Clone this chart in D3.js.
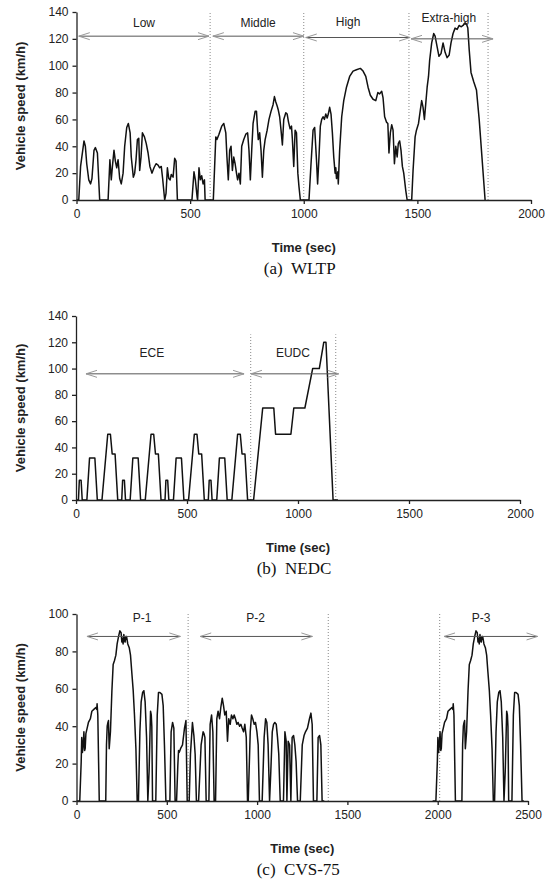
<!DOCTYPE html>
<html>
<head>
<meta charset="utf-8">
<script src="https://cdn.jsdelivr.net/npm/d3@7"></script>
<style>
  body { margin: 0; background: #fff; }
  svg { display: block; font-family: "Liberation Sans", Arial, sans-serif; }
</style>
</head>
<body>
<div class="chart"></div>
<script>
// ---- WLTP (time sec, speed km/h)
const wltp = [
  [0,0],[10,0],[18,25],[33,44],[39,40],[45,27],[54,15],[62,12],[68,16],[77,37],[83,39],[92,35],[102,0],
  [139,0],[147,30],[153,15],[158,25],[165,37],[171,29],[177,24],[183,30],[190,16],[197,12],[205,20],[212,40],
  [221,54],[228,57],[236,50],[241,32],[250,17],[256,20],[262,30],[268,45],[274,46],[278,22],[284,32],[290,50],
  [299,47],[307,42],[315,35],[323,25],[332,20],[341,24],[350,27],[359,26],[366,24],[373,25],[379,16],[388,0],
  [394,5],[400,24],[406,16],[412,15],[417,19],[425,17],[432,31],[438,29],[444,0],
  [508,0],[517,21],[523,15],[531,2],[533,0],[539,24],[545,15],[551,18],[557,12],[563,15],[566,0],
  [602,0],[613,47],[618,45],[627,49],[639,55],[648,57],[657,50],[662,32],[668,15],[674,37],[680,40],[686,22],
  [692,32],[698,27],[704,20],[709,15],[715,20],[721,12],[727,40],[736,45],[745,49],[753,50],[759,37],[765,15],
  [771,37],[777,57],[786,66],[792,66],[797,52],[800,45],[806,50],[812,37],[818,17],[824,37],[830,45],[839,52],
  [847,60],[856,66],[865,71],[871,77],[877,73],[883,70],[888,67],[894,62],[900,52],[906,41],[912,60],[921,65],
  [927,64],[933,58],[940,53],[946,55],[950,45],[956,25],[962,52],[968,50],[974,20],[979,10],[985,0],
  [1023,0],[1032,27],[1041,52],[1048,54],[1056,30],[1061,12],[1067,32],[1073,55],[1079,60],[1085,62],[1091,60],
  [1097,64],[1103,61],[1108,64],[1114,69],[1120,64],[1126,50],[1132,32],[1138,20],[1141,24],[1144,16],[1150,21],
  [1152,12],[1158,37],[1167,62],[1176,74],[1188,84],[1202,92],[1217,96],[1232,97],[1249,98],[1261,96],[1273,92],
  [1283,84],[1293,78],[1305,75],[1317,74],[1326,80],[1334,79],[1343,81],[1349,76],[1356,62],[1364,58],[1370,57],
  [1375,35],[1381,50],[1387,56],[1393,52],[1399,27],[1405,40],[1411,32],[1416,42],[1422,44],[1428,37],[1434,25],
  [1440,20],[1449,7],[1455,0],
  [1475,0],[1481,22],[1490,47],[1496,52],[1505,57],[1513,67],[1519,74],[1525,69],[1531,60],[1537,72],[1543,84],
  [1549,92],[1554,104],[1563,117],[1572,124],[1578,122],[1587,114],[1595,107],[1604,109],[1613,117],[1622,110],
  [1631,106],[1640,108],[1648,117],[1657,124],[1666,128],[1675,127],[1684,130],[1692,129],[1701,130],[1710,132],
  [1716,131],[1722,128],[1728,112],[1736,95],[1748,88],[1760,82],[1772,60],[1798,0]
];
const wltpPhases = ["Low", "Middle", "High", "Extra-high"];
const wltpSpans = [[10,583],[600,1001],[1009,1468],[1472,1833]];
const wltpArrowV = [122, 122, 121, 120];
const wltpLabelT = [297, 799, 1195, 1638];
const wltpLabelV = [132, 132, 133, 136];
const wltpDividers = [588, 1000, 1463, 1811];

// ---- NEDC
const nedc = [
  [0,0],[11,0],[15,15],[23,15],[28,0],[49,0],[61,32],[85,32],[96,0],[117,0],[143,50],[155,50],[163,35],[176,35],[188,0],
  [206,0],[210,15],[218,15],[223,0],[244,0],[256,32],[280,32],[291,0],[312,0],[338,50],[350,50],[358,35],[371,35],[383,0],
  [401,0],[405,15],[413,15],[418,0],[439,0],[451,32],[475,32],[486,0],[507,0],[533,50],[545,50],[553,35],[566,35],[578,0],
  [596,0],[600,15],[608,15],[613,0],[634,0],[646,32],[670,32],[681,0],[702,0],[728,50],[740,50],[748,35],[761,35],[773,0],
  [800,0],[841,70],[891,70],[899,50],[968,50],[981,70],[1031,70],[1066,100],[1096,100],[1116,120],[1126,120],[1158,0],[1180,0]
];
const nedcPhases = ["ECE", "EUDC"];
const nedcSpans = [[45,757],[788,1183]];
const nedcArrowV = [96, 96];
const nedcLabelT = [342, 977];
const nedcLabelV = [112, 112];
const nedcDividers = [787, 1170];

// ---- CVS-75 (cold start + stabilised phase, then hot start after the soak)
const cvsFirst = [
  [0,0],[18,0],[26,21],[29,34],[33,26],[37,30],[41,37],[45,27],[48,28],[52,36],[59,39],[66,42],[77,44],[85,48],
  [96,49],[107,50],[112,49],[114,52],[118,46],[126,0],
  [162,0],[166,30],[170,40],[174,42],[177,43],[181,28],[188,37],[196,59],[203,73],[210,75],[218,78],[225,84],
  [233,88],[240,91],[247,90],[251,85],[255,87],[258,84],[262,89],[266,86],[269,85],[273,88],[277,88],[284,84],
  [292,82],[299,78],[306,69],[314,59],[321,46],[329,28],[336,0],
  [343,0],[351,37],[358,53],[366,58],[373,59],[380,53],[388,34],[395,0],[402,16],[410,48],[414,46],[417,40],[421,0],
  [439,0],[447,46],[454,58],[462,58],[473,57],[480,51],[487,30],[495,0],
  [517,0],[524,37],[532,42],[539,39],[546,0],
  [554,0],[561,19],[565,27],[569,26],[576,28],[587,30],[598,39],[606,43],[613,0],
  [624,0],[631,25],[642,42],[650,35],[657,25],[664,0],
  [676,0],[690,30],[701,37],[706,36],[711,34],[718,0],
  [733,0],[740,41],[748,46],[755,37],[762,0],
  [770,0],[777,44],[784,48],[792,44],[799,50],[807,55],[814,51],[821,46],[829,48],[836,32],[843,44],[851,41],
  [858,46],[866,44],[873,46],[880,44],[888,41],[895,42],[903,40],[910,41],[917,39],[925,37],[932,41],[940,34],[947,0],
  [951,0],[962,37],[969,46],[976,44],[984,41],[991,42],[999,37],[1006,30],[1013,0],
  [1028,0],[1039,34],[1047,44],[1054,42],[1061,30],[1069,0],[1076,16],[1084,37],[1091,41],[1098,42],[1106,41],
  [1113,34],[1120,25],[1128,0],
  [1146,0],[1154,37],[1161,32],[1165,0],[1172,32],[1180,30],[1187,0],[1194,34],[1202,35],[1209,30],[1216,21],[1224,0],
  [1239,0],[1250,30],[1260,35],[1268,37],[1279,39],[1290,44],[1298,47],[1305,41],[1312,0],
  [1331,0],[1338,34],[1346,35],[1353,30],[1360,0],[1372,0]
];
const cvsHot = [
  [1972,0],[1990,0],[1998,21],[2001,34],[2005,26],[2009,30],[2013,37],[2017,27],[2020,28],[2024,36],[2031,39],
  [2038,42],[2049,44],[2057,48],[2068,49],[2079,50],[2084,49],[2086,52],[2090,46],[2098,0],
  [2134,0],[2138,30],[2142,40],[2146,42],[2149,43],[2153,28],[2160,37],[2168,59],[2175,73],[2182,75],[2190,78],
  [2197,84],[2205,88],[2212,91],[2219,90],[2223,85],[2227,87],[2230,84],[2234,89],[2238,86],[2241,85],[2245,88],
  [2249,88],[2256,84],[2264,82],[2271,78],[2278,69],[2286,59],[2293,46],[2301,28],[2308,0],
  [2315,0],[2323,37],[2330,53],[2338,58],[2345,59],[2352,53],[2360,34],[2367,0],[2374,16],[2382,48],[2386,46],
  [2389,40],[2393,0],
  [2411,0],[2419,46],[2426,58],[2434,58],[2445,57],[2452,51],[2459,30],[2467,0],[2477,0]
];
const cvsPhases = ["P-1", "P-2", "P-3"];
const cvsSpans = [[58,575],[685,1306],[2035,2553]];
const cvsArrowV = [88, 88, 88];
const cvsLabelT = [363, 992, 2240];
const cvsLabelV = [98, 98, 98];
const cvsDividers = [618, 1394, 2011];

const W = 554, H = 886;
const svg = d3.select(".chart").append("svg").attr("width", W).attr("height", H);

const panels = [
  { series: [wltp], xMax: 2000, yMax: 140, xStep: 500, yStep: 20,
    left: 76.5, right: 531, top: 12, bottom: 200,
    phases: wltpPhases, spans: wltpSpans, arrowV: wltpArrowV, labelT: wltpLabelT, labelV: wltpLabelV,
    dividers: wltpDividers, dividerTop: 140, caption: "(a)  WLTP" },
  { series: [nedc], xMax: 2000, yMax: 140, xStep: 500, yStep: 20,
    left: 76, right: 520, top: 316, bottom: 500,
    phases: nedcPhases, spans: nedcSpans, arrowV: nedcArrowV, labelT: nedcLabelT, labelV: nedcLabelV,
    dividers: nedcDividers, dividerTop: 126, caption: "(b)  NEDC" },
  { series: [cvsFirst, cvsHot], xMax: 2500, yMax: 100, xStep: 500, yStep: 20,
    left: 76.5, right: 528, top: 614, bottom: 801,
    phases: cvsPhases, spans: cvsSpans, arrowV: cvsArrowV, labelT: cvsLabelT, labelV: cvsLabelV,
    dividers: cvsDividers, dividerTop: 100, caption: "(c)  CVS-75" }
];

function drawPanel(p) {
  const x = d3.scaleLinear().domain([0, p.xMax]).range([p.left, p.right]);
  const y = d3.scaleLinear().domain([0, p.yMax]).range([p.bottom, p.top]);
  const g = svg.append("g");

  // phase dividers
  g.selectAll("line.divider").data(p.dividers).join("line")
    .attr("class", "divider")
    .attr("x1", d => x(d)).attr("x2", d => x(d))
    .attr("y1", y(0)).attr("y2", y(p.dividerTop))
    .attr("stroke", "#888").attr("stroke-width", 1).attr("stroke-dasharray", "1,2");

  // speed trace
  const line = d3.line().x(d => x(d[0])).y(d => y(d[1]));
  p.series.forEach(s => {
    g.append("path").datum(s).attr("d", line)
      .attr("fill", "none").attr("stroke", "#111").attr("stroke-width", 1.5)
      .attr("stroke-linejoin", "round");
  });

  // double-headed phase arrows
  p.spans.forEach((s, i) => {
    const x0 = x(s[0]), x1 = x(s[1]), yy = y(p.arrowV[i]);
    g.append("line").attr("x1", x0).attr("x2", x1).attr("y1", yy).attr("y2", yy)
      .attr("stroke", "#555").attr("stroke-width", 1);
    g.append("path")
      .attr("d", `M${x0 + 11},${yy - 3.5}L${x0},${yy}L${x0 + 11},${yy + 3.5}M${x1 - 11},${yy - 3.5}L${x1},${yy}L${x1 - 11},${yy + 3.5}`)
      .attr("fill", "none").attr("stroke", "#999").attr("stroke-width", 1);
    g.append("text").attr("x", x(p.labelT[i])).attr("y", y(p.labelV[i]))
      .attr("dy", "0.35em").attr("text-anchor", "middle")
      .attr("font-size", 12).attr("fill", "#222").text(p.phases[i]);
  });

  // axes
  const xAxis = d3.axisBottom(x).tickValues(d3.range(0, p.xMax + 1, p.xStep))
    .tickFormat(d3.format("d")).tickSize(4).tickSizeOuter(0).tickPadding(5);
  const yAxis = d3.axisLeft(y).tickValues(d3.range(0, p.yMax + 1, p.yStep))
    .tickFormat(d3.format("d")).tickSize(4).tickSizeOuter(0).tickPadding(4);
  const gx = g.append("g").attr("transform", `translate(0,${p.bottom})`).call(xAxis);
  const gy = g.append("g").attr("transform", `translate(${p.left},0)`).call(yAxis);
  [gx, gy].forEach(a => {
    a.selectAll("text").attr("font-size", 12).attr("fill", "#222")
      .attr("font-family", '"Liberation Sans", Arial, sans-serif');
    a.selectAll("path,line").attr("stroke", "#222").attr("stroke-width", 1.3);
  });

  // axis titles
  g.append("text")
    .attr("transform", `translate(25,${(p.top + p.bottom) / 2}) rotate(-90)`)
    .attr("text-anchor", "middle").attr("font-size", 13).attr("font-weight", "bold")
    .attr("fill", "#222").text("Vehicle speed (km/h)");
  g.append("text").attr("x", (p.left + p.right) / 2).attr("y", p.bottom + 52)
    .attr("text-anchor", "middle").attr("font-size", 13).attr("font-weight", "bold")
    .attr("fill", "#222").text("Time (sec)");

  // caption
  g.append("text").attr("x", (p.left + p.right) / 2 - 4).attr("y", p.bottom + 74)
    .attr("text-anchor", "middle").attr("font-size", 17)
    .attr("font-family", '"Liberation Serif", "Times New Roman", serif')
    .style("white-space", "pre").attr("fill", "#111").text(p.caption);
}

panels.forEach(drawPanel);
</script>
</body>
</html>
